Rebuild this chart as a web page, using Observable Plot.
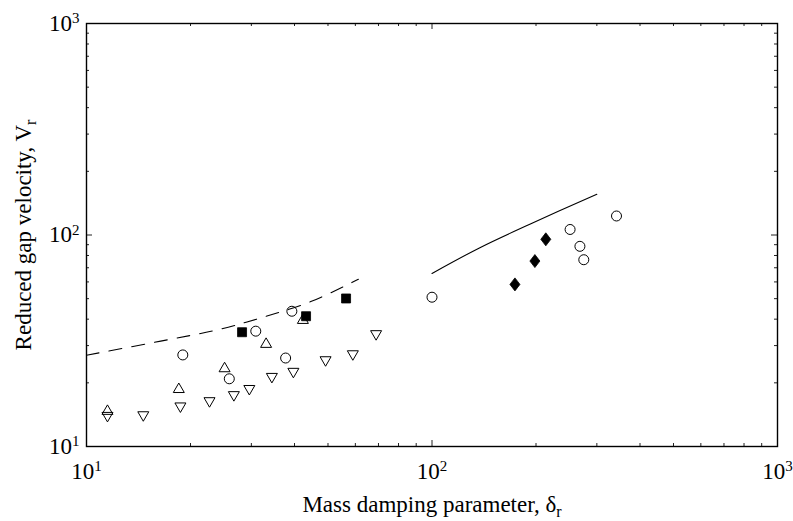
<!DOCTYPE html>
<html><head><meta charset="utf-8">
<script src="https://cdn.jsdelivr.net/npm/d3@7"></script>
<script src="https://cdn.jsdelivr.net/npm/@observablehq/plot@0.6"></script>
<style>
html,body{margin:0;padding:0;background:#fff}
</style>
</head><body><div id="chart"></div>
<script>
// ---- data ----
const circleX = [19.0, 25.9, 30.9, 37.7, 39.3, 100, 251, 268, 275, 342];
const circleY = [27.1, 20.9, 35.1, 26.2, 43.6, 50.8, 106.2, 88.4, 76.4, 123.0];
const triUpX = [11.5, 18.5, 25.1, 33.1, 42.3];
const triUpY = [14.9, 18.9, 23.7, 30.9, 40.1];
const triDownX = [11.5, 14.6, 18.7, 22.7, 26.7, 29.6, 34.4, 39.7, 49.2, 59.0, 68.9];
const triDownY = [13.8, 13.9, 15.3, 16.2, 17.3, 18.5, 21.1, 22.3, 25.3, 27.0, 33.6];
const squareX = [28.2, 43.2, 56.4];
const squareY = [34.7, 41.3, 50.1];
const diamondX = [173.8, 198.5, 213.5];
const diamondY = [58.4, 75.3, 95.4];
const dashedX = [10, 16.4, 23.9, 32.5, 44.4, 61.2];
const dashedY = [27.0, 31.5, 35.6, 40.9, 48.3, 61.7];
const solidX = [100, 137.6, 191.9, 300];
const solidY = [65.8, 87.1, 112.4, 155.9];
const majorTicks = [10, 100, 1000];
const tickExponents = ["1", "2", "3"];
const minorTicks = [20, 30, 40, 50, 60, 70, 80, 90, 200, 300, 400, 500, 600, 700, 800, 900];
const xTitle = "Mass damping parameter, δ";
const yTitle = "Reduced gap velocity, V";
const titleSub = "r";

const pts = (xs, ys) => xs.map((x, i) => ({x, y: ys[i]}));

// ---- MATLAB-like marker shapes ----
const rad = s => Math.sqrt(s / Math.PI);
const triUp = {draw(c, s) { const r = rad(s); c.moveTo(0, -r); c.lineTo(1.1 * r, 0.9 * r); c.lineTo(-1.1 * r, 0.9 * r); c.closePath(); }};
const triDown = {draw(c, s) { const r = rad(s); c.moveTo(0, r); c.lineTo(1.1 * r, -0.9 * r); c.lineTo(-1.1 * r, -0.9 * r); c.closePath(); }};
const square = {draw(c, s) { const r = rad(s) * 0.9; c.moveTo(-r, -r); c.lineTo(r, -r); c.lineTo(r, r); c.lineTo(-r, r); c.closePath(); }};
const diamond = {draw(c, s) { const r = rad(s); c.moveTo(0, -1.3 * r); c.lineTo(r, 0); c.lineTo(0, 1.3 * r); c.lineTo(-r, 0); c.closePath(); }};

const font = "'Liberation Serif', 'Times New Roman', serif";
const tickCol = "#222";
const W = 793, H = 521, ML = 86, MR = 16, MT = 23, MB = 75;
const fw = W - ML - MR, fh = H - MT - MB;

// inward ticks on all four sides
const tickMarks = [
  Plot.tickX(majorTicks, {x: d => d, insetTop: fh - 6, stroke: tickCol}),
  Plot.tickX(minorTicks, {x: d => d, insetTop: fh - 3, stroke: tickCol}),
  Plot.tickX(majorTicks, {x: d => d, insetBottom: fh - 6, stroke: tickCol}),
  Plot.tickX(minorTicks, {x: d => d, insetBottom: fh - 3, stroke: tickCol}),
  Plot.tickY(majorTicks, {y: d => d, insetRight: fw - 6, stroke: tickCol}),
  Plot.tickY(minorTicks, {y: d => d, insetRight: fw - 3, stroke: tickCol}),
  Plot.tickY(majorTicks, {y: d => d, insetLeft: fw - 6, stroke: tickCol}),
  Plot.tickY(minorTicks, {y: d => d, insetLeft: fw - 3, stroke: tickCol})
];

const plot = Plot.plot({
  width: W, height: H,
  marginLeft: ML, marginRight: MR, marginTop: MT, marginBottom: MB,
  x: {type: "log", domain: [10, 1000]},
  y: {type: "log", domain: [10, 1000]},
  style: {fontFamily: font, color: "black", background: "white", overflow: "visible"},
  marks: [
    ...tickMarks,
    Plot.axisX(majorTicks, {anchor: "bottom", tickSize: 0, tickPadding: 16, fontSize: 23, label: null,
      tickFormat: d => tickExponents[majorTicks.indexOf(d)]}),
    Plot.axisY(majorTicks, {anchor: "left", tickSize: 0, tickPadding: 7, fontSize: 23, label: null,
      tickFormat: d => tickExponents[majorTicks.indexOf(d)]}),
    Plot.line(pts(dashedX, dashedY), {x: "x", y: "y", stroke: "black", strokeWidth: 1.1, strokeDasharray: "13,10", curve: "catmull-rom"}),
    Plot.line(pts(solidX, solidY), {x: "x", y: "y", stroke: "black", strokeWidth: 1.1, curve: "catmull-rom"}),
    Plot.dot(pts(circleX, circleY), {x: "x", y: "y", r: 5, symbol: "circle", stroke: "black", strokeWidth: 1, fill: "none"}),
    Plot.dot(pts(triUpX, triUpY), {x: "x", y: "y", r: 5, symbol: triUp, stroke: "black", strokeWidth: 1, fill: "none"}),
    Plot.dot(pts(triDownX, triDownY), {x: "x", y: "y", r: 5, symbol: triDown, stroke: "black", strokeWidth: 1, fill: "none"}),
    Plot.dot(pts(squareX, squareY), {x: "x", y: "y", r: 5, symbol: square, stroke: "black", strokeWidth: 0.8, fill: "black"}),
    Plot.dot(pts(diamondX, diamondY), {x: "x", y: "y", r: 5, symbol: diamond, stroke: "black", strokeWidth: 0.8, fill: "black"}),
    Plot.frame({stroke: "black", strokeWidth: 1.4}),
    Plot.text([xTitle], {frameAnchor: "bottom", dy: 58, text: d => d, fontSize: 23, lineAnchor: "middle", textAnchor: "middle"}),
    Plot.text([yTitle], {frameAnchor: "left", dx: -63, rotate: -90, text: d => d, fontSize: 23, lineAnchor: "middle", textAnchor: "middle"})
  ]
});

const svg = d3.select(plot);
svg.selectAll('g[aria-label="x-axis tick label"] text, g[aria-label="y-axis tick label"] text').each(function () {
  const t = d3.select(this);
  const e = t.text();
  if (!tickExponents.includes(e)) return;
  t.text("10");
  t.append("tspan").attr("dy", "-0.5em").attr("font-size", "15px").text(e);
});
svg.selectAll("text").each(function () {
  const t = d3.select(this);
  const s = t.text();
  if (s === xTitle || s === yTitle) {
    t.append("tspan").attr("dy", "0.3em").attr("font-size", "16px").text(titleSub);
  }
});
document.getElementById("chart").appendChild(plot);
</script>
</body></html>
